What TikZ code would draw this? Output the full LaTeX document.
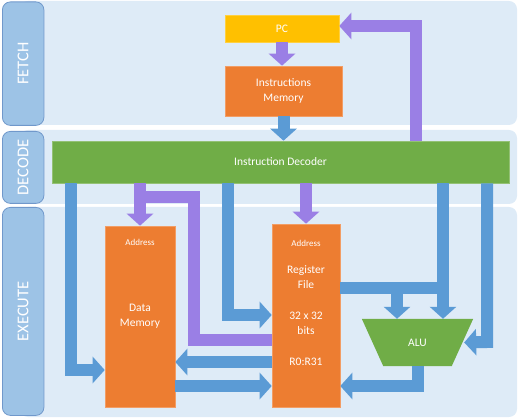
\documentclass[tikz,border=0pt]{standalone}
\usepackage{fontspec}
\setmainfont{Carlito}
\usepackage{tikz}
\usetikzlibrary{arrows.meta,calc}

\definecolor{panelbg}{RGB}{222,235,247}
\definecolor{tabfill}{RGB}{157,195,230}
\definecolor{tabedge}{RGB}{112,152,203}
\definecolor{arrblue}{RGB}{91,155,213}
\definecolor{arrpurple}{RGB}{154,127,229}
\definecolor{boxorange}{RGB}{237,125,49}
\definecolor{boxyellow}{RGB}{255,192,0}
\definecolor{boxgreen}{RGB}{112,173,71}

\begin{document}
\begin{tikzpicture}[x=1pt,y=-1pt,
  panel/.style={fill=panelbg, rounded corners=8pt},
  tab/.style={fill=tabfill, draw=tabedge, line width=0.8pt, rounded corners=8pt, inner sep=0pt, anchor=north west},
  tablabel/.style={white, rotate=90, font=\fontsize{16.5}{18}\selectfont},
  block/.style={draw=#1!75!white, fill=#1, line width=0.6pt, inner sep=0pt, text=white, font=\fontsize{11.5}{15}\selectfont, align=center},
  small/.style={white, font=\fontsize{9}{11}\selectfont},
  txt/.style={white, font=\fontsize{11.5}{15}\selectfont, align=center},
  bluarr/.style={arrblue, line width=12pt, line join=miter, -{Triangle[width=26pt,length=12pt]}},
  purarr/.style={arrpurple, line width=12pt, line join=miter, -{Triangle[width=26pt,length=12pt]}}]
\useasboundingbox (0,0) rectangle (519,419);

% stage panels
\fill[panel] (20,1) rectangle (517,125);
\fill[panel] (20,130) rectangle (517,204);
\fill[panel] (20,207) rectangle (517,417);
\node[tab, minimum width=41.5pt, minimum height=123.5pt] (fetch) at (2,1.5) {};
\node[tab, minimum width=41.5pt, minimum height=72pt] (decode) at (2,131) {};
\node[tab, minimum width=41.5pt, minimum height=208pt] (execute) at (2,207) {};
\node[tablabel] (fetchlbl) at (fetch) {FETCH};
\node[tablabel] (decodelbl) at (decode) {DECODE};
\node[tablabel] (executelbl) at (execute) {EXECUTE};

% blocks
\node[block=boxyellow, minimum width=114pt, minimum height=27pt] (pc) at (282,28.5) {PC};
\node[block=boxorange, minimum width=117pt, minimum height=50pt] (imem) at (283.5,91) {Instructions\\Memory};
\node[block=boxgreen, minimum width=457pt, minimum height=42pt] (dec) at (280.5,162) {Instruction Decoder};
\node[block=boxorange, minimum width=70pt, minimum height=181pt] (dmem) at (140,316.5) {Data\\Memory};
\node[block=boxorange, minimum width=68pt, minimum height=183pt] (rf) at (306,315.5) {};
\node[small] (dmaddr) at ($(dmem.north)+(0,16.5)$) {Address};
\node[small] (rfaddr) at ($(rf.north)+(0,19.5)$) {Address};
\node[txt] (rfname) at (306,277) {Register\\File};
\node[txt] (rfsize) at (306,323.5) {32 x 32\\bits};
\node[txt] (rfregs) at (306,362) {R0:R31};
\node[minimum width=111pt, minimum height=47pt, inner sep=0pt] (alu) at (417.5,342.5) {};
\fill[boxgreen] (alu.north west) -- (alu.north east) -- ([xshift=-21.5pt]alu.south east)
  -- ([xshift=21.5pt]alu.south west) -- cycle;
\node[txt] (alulbl) at (alu) {ALU};

% fetch
\draw[purarr] (pc.south) -- (pc.south |- imem.north);
\draw[bluarr] (imem.south) -- (imem.south |- dec.north);
\draw[purarr] (dec.north -| 416,0) -- (416,26) -- (pc.east |- 0,26);

% decoder outputs
\draw[bluarr] (dec.south -| 71,0) -- (71,370) -- (dmem.west |- 0,370);
\draw[purarr] (dec.south -| dmem.north) -- (dmem.north);
\draw[purarr, -] (dmem.north |- 0,197) -- (194,197) -- (194,340) -- (rf.west |- 0,340);
\draw[bluarr] (dec.south -| 228,0) -- (228,315) -- (rf.west |- 0,315);
\draw[purarr] (dec.south -| rf.north) -- (rf.north);
\draw[bluarr] (dec.south -| 443,0) -- (443,0 |- alu.north);
\draw[bluarr] (dec.south -| 487,0) -- (487,342) -- ([xshift=-9pt]alu.east);

% execute
\draw[bluarr, -] (rf.east |- 0,288) -- (443,288);
\draw[bluarr] (397,288) -- (397,0 |- alu.north);
\draw[bluarr] (alu.south) -- (alu.south |- 0,386) -- (rf.east |- 0,386);
\draw[bluarr] (rf.west |- 0,362) -- (dmem.east |- 0,362);
\draw[bluarr] (dmem.east |- 0,386) -- (rf.west |- 0,386);
\end{tikzpicture}
\end{document}
